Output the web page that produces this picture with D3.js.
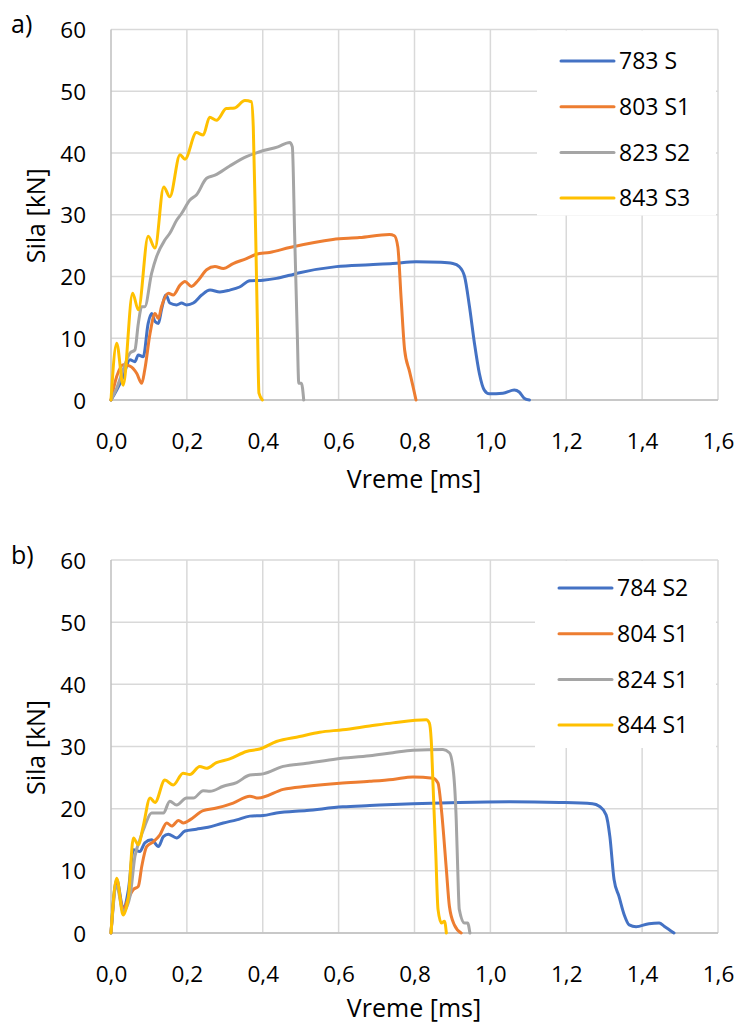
<!DOCTYPE html>
<html><head><meta charset="utf-8">
<script src="https://cdn.jsdelivr.net/npm/d3@7"></script>
<style>body{margin:0;background:#fff}svg{display:block}text{font-family:"Open Sans",sans-serif;fill:#000}</style>
</head><body>
<script>
const xTicks = [0,0.2,0.4,0.6,0.8,1.0,1.2,1.4,1.6];
const yTicks = [0,10,20,30,40,50,60];
const xTitle = "Vreme [ms]";
const yTitle = "Sila [kN]";
const colors = ["#4472C4","#ED7D31","#A5A5A5","#FFC000"];

// chart a)
const namesA = ["783 S","803 S1","823 S2","843 S3"];
const a783 = [[0,0],[0.015,1.6],[0.032,3.8],[0.05,6.5],[0.063,6.2],[0.072,7.3],[0.085,7.0],[0.098,12.4],[0.107,14.0],[0.116,12.7],[0.125,12.4],[0.133,14.6],[0.145,17.0],[0.155,15.7],[0.173,15.4],[0.186,15.7],[0.199,15.4],[0.217,15.7],[0.239,17.0],[0.261,17.8],[0.287,17.5],[0.313,17.8],[0.339,18.3],[0.366,19.3],[0.401,19.4],[0.436,19.7],[0.471,20.2],[0.497,20.6],[0.594,21.6],[0.682,21.9],[0.743,22.1],[0.804,22.4],[0.87,22.3],[0.901,22.1],[0.918,21.6],[0.932,20.0],[0.945,15.1],[0.958,9.2],[0.971,4.3],[0.984,1.6],[0.997,1.0],[1.033,1.1],[1.063,1.6],[1.076,1.3],[1.089,0.3],[1.103,0]];
const a803 = [[0,0],[0.015,3.8],[0.032,5.7],[0.05,5.5],[0.068,4.3],[0.081,2.7],[0.089,4.9],[0.103,10.8],[0.116,14.0],[0.125,13.2],[0.133,15.1],[0.151,17.3],[0.164,17.0],[0.182,18.6],[0.195,19.2],[0.212,18.4],[0.23,19.4],[0.252,21.1],[0.274,21.6],[0.296,21.3],[0.322,22.1],[0.357,22.9],[0.383,23.6],[0.418,23.9],[0.471,24.7],[0.585,26.0],[0.655,26.3],[0.734,26.8],[0.747,26.6],[0.756,24.8],[0.765,16.2],[0.774,8.1],[0.787,4.6],[0.796,2.2],[0.804,0]];
const a823 = [[0,0],[0.015,1.9],[0.032,4.9],[0.05,7.6],[0.063,8.1],[0.072,12.4],[0.081,15.1],[0.089,15.1],[0.107,20.5],[0.12,23.2],[0.142,25.9],[0.155,27.0],[0.173,29.1],[0.186,30.2],[0.208,32.4],[0.225,33.2],[0.252,35.9],[0.274,36.4],[0.313,37.9],[0.357,39.4],[0.392,40.2],[0.44,41.0],[0.471,41.7],[0.478,41.0],[0.484,27.0],[0.491,10.8],[0.495,2.7],[0.502,2.7],[0.508,0]];
const a843 = [[0,0],[0.015,9.2],[0.032,2.4],[0.057,17.3],[0.072,14.6],[0.098,26.5],[0.116,24.6],[0.139,34.5],[0.155,32.9],[0.182,39.7],[0.195,39.0],[0.225,43.3],[0.243,42.9],[0.26,45.8],[0.278,45.3],[0.304,47.2],[0.326,47.3],[0.353,48.5],[0.37,48.3],[0.375,44.3],[0.381,28.0],[0.386,11.9],[0.39,1.1],[0.399,0]];

// chart b)
const namesB = ["784 S2","804 S1","824 S1","844 S1"];
const b784 = [[0,0],[0.015,8.6],[0.032,4.0],[0.046,7.0],[0.059,13.4],[0.076,13.1],[0.089,14.5],[0.107,15.0],[0.125,13.9],[0.138,15.5],[0.151,15.9],[0.173,15.3],[0.195,16.4],[0.225,16.7],[0.256,17.0],[0.296,17.7],[0.331,18.2],[0.366,18.8],[0.401,18.9],[0.436,19.3],[0.516,19.7],[0.611,20.3],[0.682,20.5],[0.796,20.8],[0.918,21.0],[1.05,21.1],[1.182,21.0],[1.269,20.8],[1.287,20.4],[1.305,19.0],[1.315,15.5],[1.326,8.6],[1.339,5.9],[1.353,2.9],[1.366,1.3],[1.384,1.0],[1.418,1.5],[1.445,1.6],[1.458,1.1],[1.484,0]];
const b804 = [[0,0],[0.015,8.0],[0.032,3.8],[0.046,5.6],[0.059,7.0],[0.072,7.5],[0.081,10.7],[0.094,13.9],[0.112,14.7],[0.129,15.8],[0.147,17.7],[0.16,17.2],[0.178,18.1],[0.191,17.7],[0.208,18.2],[0.243,19.7],[0.278,20.1],[0.322,20.9],[0.366,22.0],[0.388,21.7],[0.454,23.1],[0.516,23.6],[0.603,24.1],[0.682,24.4],[0.743,24.7],[0.796,25.1],[0.849,24.9],[0.862,24.1],[0.871,19.8],[0.884,10.2],[0.892,4.3],[0.905,1.3],[0.923,0]];
const b824 = [[0,0],[0.015,7.5],[0.032,3.5],[0.05,5.9],[0.063,12.3],[0.076,15.0],[0.089,17.2],[0.107,19.3],[0.138,19.3],[0.155,21.2],[0.173,20.6],[0.199,21.7],[0.217,21.7],[0.243,22.9],[0.261,22.8],[0.296,23.6],[0.331,24.2],[0.366,25.4],[0.401,25.6],[0.454,26.8],[0.516,27.3],[0.594,28.0],[0.682,28.5],[0.743,29.0],[0.796,29.4],[0.875,29.5],[0.892,29.0],[0.903,25.7],[0.91,18.2],[0.914,10.2],[0.918,3.8],[0.932,1.6],[0.94,1.6],[0.946,0]];
const b844 = [[0,0],[0.015,8.8],[0.032,2.9],[0.046,5.9],[0.059,15.3],[0.072,14.2],[0.085,17.2],[0.103,21.7],[0.116,21.0],[0.142,24.6],[0.164,23.8],[0.19,25.7],[0.208,25.5],[0.234,26.8],[0.252,26.5],[0.278,27.4],[0.313,28.0],[0.357,29.2],[0.392,29.6],[0.436,30.8],[0.497,31.6],[0.55,32.3],[0.611,32.7],[0.682,33.3],[0.743,33.8],[0.831,34.3],[0.839,33.8],[0.844,31.1],[0.849,23.6],[0.856,12.9],[0.862,3.8],[0.871,1.6],[0.879,1.9],[0.884,0]];

const W = 737, H = 1023;
const svg = d3.select("body").append("svg").attr("width", W).attr("height", H);

function drawChart(cfg) {
  const x = d3.scaleLinear().domain([0,1.6]).range([111,718]);
  const y = d3.scaleLinear().domain([0,60]).range([cfg.bottom, cfg.top]);
  const g = svg.append("g");
  g.selectAll(".gy").data(yTicks).join("line")
    .attr("x1", 111).attr("x2", 718).attr("y1", d=>y(d)).attr("y2", d=>y(d))
    .attr("stroke", "#D9D9D9").attr("stroke-width", 1.5);
  g.selectAll(".gx").data(xTicks).join("line")
    .attr("x1", d=>x(d)).attr("x2", d=>x(d)).attr("y1", cfg.top).attr("y2", cfg.bottom)
    .attr("stroke", d => d===0 ? "#BFBFBF" : "#D9D9D9").attr("stroke-width", 1.5);
  g.append("line").attr("x1",111).attr("x2",718).attr("y1",cfg.bottom).attr("y2",cfg.bottom)
    .attr("stroke","#BFBFBF").attr("stroke-width",1.5);
  const yAxis = g.append("g").attr("transform", "translate(111,0)")
    .call(d3.axisLeft(y).tickValues(yTicks).tickSize(0).tickPadding(25).tickFormat(d3.format("d")));
  yAxis.select(".domain").remove();
  yAxis.selectAll("text").attr("font-size", 22.5).attr("font-family", '"Open Sans",sans-serif').attr("dy","0.36em");
  const xAxis = g.append("g").attr("transform", `translate(0,${cfg.bottom})`)
    .call(d3.axisBottom(x).tickValues(xTicks).tickSize(0).tickPadding(33).tickFormat(d => d3.format(".1f")(d).replace(".", ",")));
  xAxis.select(".domain").remove();
  xAxis.selectAll("text").attr("font-size", 22.5).attr("font-family", '"Open Sans",sans-serif');
  g.append("text").attr("x", 414).attr("y", cfg.bottom + cfg.titleOff).attr("text-anchor","middle")
    .attr("font-size", 25).text(xTitle);
  g.append("text").attr("transform", `translate(45,${(cfg.top+cfg.bottom)/2 + 1}) rotate(-90)`)
    .attr("text-anchor","middle").attr("font-size", 25).text(yTitle);
  g.append("text").attr("x", 11).attr("y", cfg.top + 3.5).attr("font-size", 25).text(cfg.label);
  const lg = g.append("g");
  lg.append("rect").attr("x", cfg.legX - 24).attr("y", cfg.top + 1).attr("width", 716 - (cfg.legX - 24))
    .attr("height", cfg.legH).attr("fill", "#fff");
  const line = d3.line().x(d=>x(d[0])).y(d=>y(d[1])).curve(d3.curveMonotoneX);
  cfg.series.forEach((s,i) => {
    g.append("path").datum(s).attr("d", line).attr("fill","none")
      .attr("stroke", colors[i]).attr("stroke-width", 3).attr("stroke-linejoin","round").attr("stroke-linecap","round");
  });
  cfg.names.forEach((n,i) => {
    const yy = cfg.legY + i*45.7;
    lg.append("line").attr("x1", cfg.legX).attr("x2", cfg.legX + 53).attr("y1", yy).attr("y2", yy)
      .attr("stroke", colors[i]).attr("stroke-width", 3).attr("stroke-linecap","round");
    lg.append("text").attr("x", cfg.legX + 58).attr("y", yy).attr("dy", "0.36em").attr("font-size", 23).text(n);
  });
  lg.raise();
}

drawChart({top: 29.5, bottom: 400, label: "a)", names: namesA, series: [a783,a803,a823,a843], legX: 561, legY: 61, legH: 185, titleOff: 88});
drawChart({top: 560, bottom: 933, label: "b)", names: namesB, series: [b784,b804,b824,b844], legX: 559, legY: 588, legH: 187, titleOff: 84});
</script>
</body></html>
